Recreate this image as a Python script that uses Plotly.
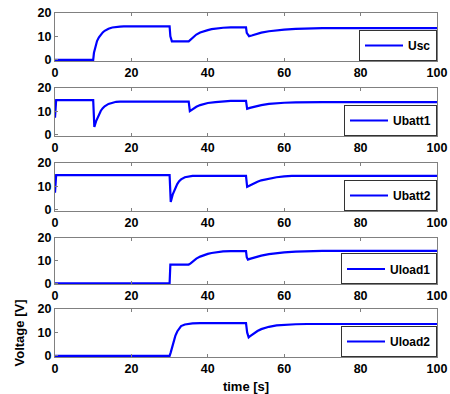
import plotly.graph_objects as go

# ---- data ----
t_usc = [0, 10, 10.2, 10.5, 11, 11.5, 12, 12.5, 13, 14, 15, 16, 17, 18, 30, 30.2, 30.6, 35, 35.5, 36, 37, 38, 39, 40, 41, 42, 44, 46, 50, 50.2, 50.8, 51.5, 52, 53, 54, 56, 58, 60, 63, 66, 70, 100]
v_usc = [0, 0, 3, 5.5, 8, 9.6, 10.8, 11.7, 12.4, 13.3, 13.8, 14.1, 14.2, 14.3, 14.3, 10, 7.9, 7.9, 8.6, 9.5, 10.8, 11.7, 12.3, 12.7, 13.1, 13.4, 13.7, 13.9, 13.9, 11.5, 10.1, 10.4, 10.7, 11.2, 11.6, 12.2, 12.6, 12.9, 13.2, 13.4, 13.5, 13.5]

t_ubatt1 = [0, 0.3, 10, 10.3, 10.8, 11.5, 12, 12.5, 13, 14, 15, 16, 17, 18, 35, 35.3, 36, 37, 38, 39, 40, 42, 44, 46, 50, 50.3, 51, 52, 53, 54, 56, 58, 60, 63, 66, 70, 100]
v_ubatt1 = [7.3, 14.8, 14.8, 3.4, 6, 8.8, 10.3, 11.4, 12.2, 13.2, 13.8, 14.1, 14.2, 14.2, 14.2, 10.1, 11, 12, 12.7, 13.2, 13.6, 14.0, 14.3, 14.5, 14.5, 11.1, 11.5, 12, 12.4, 12.7, 13.2, 13.5, 13.7, 13.9, 14, 14, 14]

t_ubatt2 = [0, 0.3, 30, 30.3, 30.8, 31.5, 32, 32.5, 33, 34, 35, 36, 50, 50.3, 51, 52, 53, 54, 56, 58, 60, 62, 100]
v_ubatt2 = [7.3, 14.8, 14.8, 3.4, 6.5, 9.5, 11, 12.2, 13, 13.9, 14.3, 14.5, 14.5, 9.8, 10.4, 11.3, 12, 12.6, 13.4, 13.9, 14.3, 14.5, 14.5]

t_uload1 = [0, 30, 30.2, 35, 35.5, 36, 37, 38, 39, 40, 41, 42, 44, 46, 50, 50.2, 50.5, 51, 52, 53, 54, 56, 58, 60, 63, 66, 70, 100]
v_uload1 = [0, 0, 8.3, 8.3, 8.8, 9.6, 10.9, 11.8, 12.5, 13, 13.4, 13.7, 14.1, 14.2, 14.2, 11.5, 10.5, 10.8, 11.3, 11.8, 12.2, 12.9, 13.4, 13.7, 14, 14.2, 14.3, 14.3]

t_uload2 = [0, 30, 30.3, 30.7, 31, 31.5, 32, 32.5, 33, 34, 35, 36, 38, 50, 50.3, 50.7, 51, 52, 53, 54, 56, 58, 60, 63, 66, 100]
v_uload2 = [0, 0, 1.5, 4, 6, 8.5, 10.4, 11.8, 12.7, 13.4, 13.7, 13.9, 14, 14, 10, 7.9, 8.3, 9.6, 10.6, 11.4, 12.4, 13, 13.3, 13.5, 13.6, 13.6]

names = ["Usc", "Ubatt1", "Ubatt2", "Uload1", "Uload2"]
times = [t_usc, t_ubatt1, t_ubatt2, t_uload1, t_uload2]
values = [v_usc, v_ubatt1, v_ubatt2, v_uload1, v_uload2]

x_ticks = [0, 20, 40, 60, 80, 100]
y_ticks = [0, 10, 20]
x_title = "time [s]"
y_title = "Voltage [V]"

# ---- layout ----
domains = [(0.8605, 1.0), (0.6424, 0.782), (0.4244, 0.564), (0.2108, 0.3459), (0.0, 0.1395)]
FONT = "Liberation Sans, Arial, sans-serif"
AXC = "#808080"

fig = go.Figure()
layout = dict(
    width=450, height=394,
    margin=dict(l=55, r=13, t=13, b=37, autoexpand=False),
    paper_bgcolor="white", plot_bgcolor="white",
    font=dict(family=FONT, size=12, color="black", weight="bold"),
)

for i, (nm, t, v) in enumerate(zip(names, times, values)):
    k = "" if i == 0 else str(i + 1)
    leg = "legend" + k
    fig.add_trace(go.Scatter(
        x=t, y=v, mode="lines", name=nm,
        line=dict(color="#0000ff", width=2.2),
        xaxis="x" + k, yaxis="y" + k, legend=leg, showlegend=True,
    ))
    ax_common = dict(
        showline=True, mirror="ticks", linecolor=AXC, linewidth=1,
        ticks="inside", ticklen=3, tickcolor=AXC,
        showgrid=False, zeroline=False, automargin=False,
        ticklabeloverflow="allow",
        tickfont=dict(family=FONT, size=12.5, color="black", weight="bold"),
    )
    layout["xaxis" + k] = dict(
        ax_common, domain=[0, 1], range=[0, 100], tickvals=x_ticks,
        anchor="y" + k,
    )
    layout["yaxis" + k] = dict(
        ax_common, domain=list(domains[i]), range=[-0.5, 20], tickvals=y_ticks,
        anchor="x" + k,
    )
    layout[leg] = dict(
        x=1, xanchor="right", y=domains[i][0], yanchor="bottom",
        bgcolor="white", bordercolor="#333333", borderwidth=1,
        font=dict(family=FONT, size=12, color="black", weight="bold"),
        itemwidth=38, tracegroupgap=0,
    )

layout["xaxis5"]["title"] = dict(text=x_title, standoff=9,
                                 font=dict(family=FONT, size=13, weight="bold"))
layout["yaxis5"]["title"] = dict(text=y_title, standoff=10,
                                 font=dict(family=FONT, size=13, weight="bold"))

fig.update_layout(**layout)
# remove the default 8px page margin so the 450x394 figure fills the window
fig.write_html(
    "out.html",
    config={"displayModeBar": False},
    post_script="document.body.style.margin='0';"
                "document.documentElement.style.overflow='hidden';",
)
